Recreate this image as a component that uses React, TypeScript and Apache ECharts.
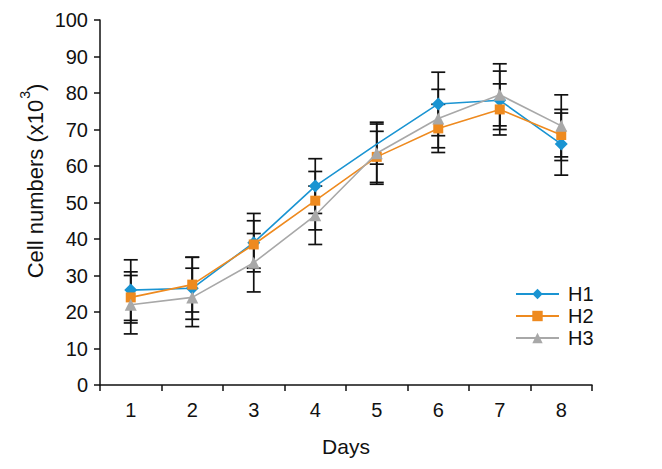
import React, { useEffect, useRef } from "react";
import * as echarts from "echarts";

const days = ["1", "2", "3", "4", "5", "6", "7", "8"];
const h1 = [26, 26.5, 39, 54.5, 66, 77, 78, 66];
const h2 = [24, 27.5, 38.5, 50.5, 62.5, 70.3, 75.5, 68.5];
const h3 = [22, 24, 33.5, 46.5, 63.5, 73, 79.5, 71];
const h1Err = [8.3, 8.5, 8, 7.5, 5.5, 8.7, 8, 8.5];
const h2Err = [7, 7.5, 6.5, 8, 7, 6.6, 7, 7];
const h3Err = [8, 8, 8, 8, 8.5, 8, 8.5, 8.5];
const hiddenMarkerH1 = [4];
const yAxisTitle = "{a|Cell numbers (x10}{s|3}{a|)}";

const FONT = "'Liberation Sans', Arial, sans-serif";

function errData(vals: number[], errs: number[]) {
  return vals.map((v, i) => [i, v - errs[i], v + errs[i]]);
}

function renderErr(params: any, api: any) {
  const x = api.value(0);
  const lo = api.coord([x, api.value(1)]);
  const hi = api.coord([x, api.value(2)]);
  const half = 7;
  const style = { stroke: "#111", lineWidth: 1.7 };
  return {
    type: "group",
    children: [
      { type: "line", shape: { x1: lo[0], y1: lo[1], x2: hi[0], y2: hi[1] }, style },
      { type: "line", shape: { x1: hi[0] - half, y1: hi[1], x2: hi[0] + half, y2: hi[1] }, style },
      { type: "line", shape: { x1: lo[0] - half, y1: lo[1], x2: lo[0] + half, y2: lo[1] }, style },
    ],
  };
}

export default function App() {
  const ref = useRef<HTMLDivElement>(null);
  useEffect(() => {
    if (!ref.current) return;
    const chart = echarts.init(ref.current, undefined, { renderer: "svg" });
    const colors = ["#1a94d2", "#ee8a1f", "#a8a8a8"];
    const lineSeries = (name: string, data: any[], color: string, symbol: string, size: number) => ({
      name,
      type: "line",
      data,
      symbol,
      symbolSize: size,
      z: 3,
      lineStyle: { color, width: 1.6 },
      itemStyle: { color },
    });
    const h1Data = h1.map((v, i) => (hiddenMarkerH1.includes(i) ? { value: v, symbol: "none" } : v));
    chart.setOption({
      animation: false,
      grid: { left: 100, right: 70, top: 20, bottom: 84 },
      textStyle: { fontFamily: FONT },
      graphic: [
        {
          type: "text",
          x: 32,
          y: 181,
          rotation: Math.PI / 2,
          style: {
            text: yAxisTitle,
            align: "center",
            verticalAlign: "middle",
            rich: {
              a: { fontSize: 22, fill: "#111", fontFamily: FONT, lineHeight: 28, verticalAlign: "bottom" },
              s: { fontSize: 14, fill: "#111", fontFamily: FONT, lineHeight: 28, verticalAlign: "top", padding: [0, 0, 0, 1] },
            },
          },
        },
      ],
      legend: {
        orient: "vertical",
        left: 510,
        top: 279,
        itemWidth: 43,
        itemHeight: 13,
        itemGap: 2,
        textStyle: { fontSize: 20, color: "#111", fontFamily: FONT, padding: [0, 0, 0, 4] },
        data: ["H1", "H2", "H3"],
      },
      xAxis: {
        type: "category",
        data: days,
        boundaryGap: true,
        name: "Days",
        nameLocation: "middle",
        nameGap: 51,
        nameTextStyle: { fontSize: 21, color: "#111", fontFamily: FONT },
        axisLine: { lineStyle: { color: "#111", width: 1.5 } },
        axisTick: { show: true, length: 6, lineStyle: { color: "#111", width: 1.5 } },
        axisLabel: { fontSize: 20, color: "#111", margin: 15, fontFamily: FONT },
      },
      yAxis: {
        type: "value",
        min: 0,
        max: 100,
        interval: 10,
        splitLine: { show: false },
        axisLine: { show: true, lineStyle: { color: "#111", width: 1.5 } },
        axisTick: { show: true, length: 6, lineStyle: { color: "#111", width: 1.5 } },
        axisLabel: { fontSize: 20, color: "#111", margin: 12, fontFamily: FONT },
      },
      series: [
        { type: "custom", name: "errH1", renderItem: renderErr, data: errData(h1, h1Err), z: 1, silent: true },
        { type: "custom", name: "errH2", renderItem: renderErr, data: errData(h2, h2Err), z: 1, silent: true },
        { type: "custom", name: "errH3", renderItem: renderErr, data: errData(h3, h3Err), z: 1, silent: true },
        lineSeries("H1", h1Data, colors[0], "diamond", 13),
        lineSeries("H2", h2, colors[1], "rect", 10),
        lineSeries("H3", h3, colors[2], "triangle", 12),
      ],
    });
    return () => chart.dispose();
  }, []);
  return <div ref={ref} style={{ width: 662, height: 469, position: "absolute", left: 0, top: 0 }} />;
}
